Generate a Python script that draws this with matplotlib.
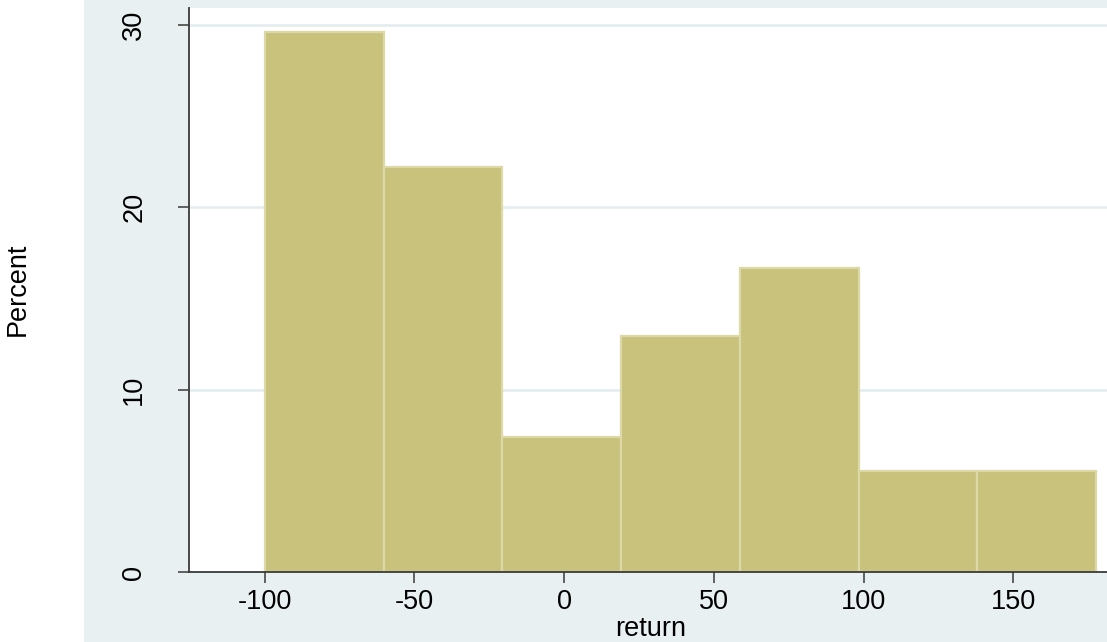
import matplotlib
matplotlib.use("Agg")
import matplotlib.pyplot as plt
from matplotlib.patches import Rectangle

plt.rcParams['font.family'] = ['Liberation Sans', 'DejaVu Sans']

# Histogram data (percent per bin)
bin_edges = [-100.0, -60.33, -20.67, 19.0, 58.67, 98.33, 138.0, 177.67]
percents = [29.63, 22.22, 7.41, 12.96, 16.67, 5.56, 5.56]
x_ticks = [-100, -50, 0, 50, 100, 150]
y_ticks = [0, 10, 20, 30]

W, H = 1107, 642
fig = plt.figure(figsize=(W / 100, H / 100), dpi=100, facecolor='white')

bg = '#e8f0f2'
fig.patches.append(Rectangle((84 / W, 0), 1 - 84 / W, 1, transform=fig.transFigure,
                             facecolor=bg, edgecolor='none', zorder=-10))

ax = fig.add_axes([189 / W, (H - 572) / H, 1 - 189 / W, (572 - 8) / H])
ax.set_zorder(1)
ax.set_facecolor('white')

widths = [bin_edges[i + 1] - bin_edges[i] for i in range(len(percents))]
ax.bar(bin_edges[:-1], percents, width=widths, align='edge',
       color='#c8c27d', edgecolor='#dcd9a6', linewidth=1.6, zorder=3)

ax.set_xlim(-125.3, 181.3)
ax.set_ylim(0, 30.93)

for y in y_ticks[1:]:
    ax.axhline(y, color='#e3ecef', linewidth=1.8, zorder=1)

ax.set_xticks(x_ticks)
ax.set_xticklabels([str(v) for v in x_ticks])
ax.set_yticks(y_ticks)
ax.set_yticklabels([str(v) for v in y_ticks], rotation=90, va='center')

for s in ['top', 'right']:
    ax.spines[s].set_visible(False)
for s in ['left', 'bottom']:
    ax.spines[s].set_color('#3a3a3a')
    ax.spines[s].set_linewidth(1.3)
    ax.spines[s].set_zorder(5)

ax.tick_params(axis='both', direction='out', length=8, width=1.1, color='#3a3a3a',
               labelsize=19.5, labelcolor='black')
ax.tick_params(axis='x', pad=4)
ax.tick_params(axis='y', pad=22)

fig.text(651 / W, 1 - 629 / H, 'return', ha='center', va='center', fontsize=19.5)
fig.text(18 / W, 1 - 289 / H, 'Percent', ha='center', va='center', rotation=90, fontsize=19.5)

fig.savefig('out.png', dpi=100, facecolor='white')
